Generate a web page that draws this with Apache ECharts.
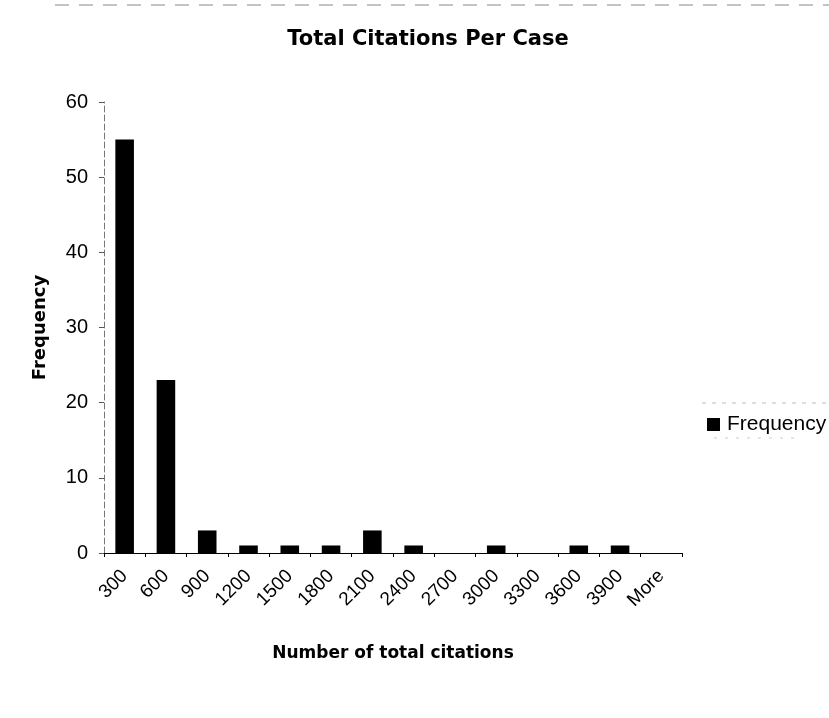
<!DOCTYPE html>
<html>
<head>
<meta charset="utf-8">
<script src="https://cdn.jsdelivr.net/npm/echarts@6/dist/echarts.min.js"></script>
<style>
  html, body { margin: 0; padding: 0; background: #fff; }
  #chart { width: 829px; height: 718px; }
</style>
</head>
<body>
<div id="chart"></div>
<script>
// Histogram bins (upper bound of each bin) and case counts
const binLabels = ['300', '600', '900', '1200', '1500', '1800', '2100', '2400', '2700', '3000', '3300', '3600', '3900', 'More'];
const frequency = [55, 23, 3, 1, 1, 1, 3, 1, 0, 1, 0, 1, 1, 0];
const yTicks = { min: 0, max: 60, step: 10 };

const bold = '"DejaVu Sans", Verdana, sans-serif';
const regular = '"Liberation Sans", Arial, sans-serif';
const chart = echarts.init(document.getElementById('chart'));

chart.setOption({
  backgroundColor: '#ffffff',
  animation: false,
  title: {
    text: 'Total Citations Per Case',
    left: 428,
    top: 29,
    padding: 0,
    textAlign: 'center',
    textStyle: { fontFamily: bold, fontSize: 21, fontWeight: 'bold', color: '#000' }
  },
  legend: {
    data: ['Frequency'],
    left: 707,
    top: 414,
    itemWidth: 13,
    itemHeight: 13,
    icon: 'rect',
    textStyle: { fontFamily: regular, fontSize: 21, color: '#000', padding: [0, 0, 0, 2] },
    padding: 0
  },
  grid: { left: 104, top: 102, width: 578, height: 451, containLabel: false },
  xAxis: {
    type: 'category',
    data: binLabels,
    name: 'Number of total citations',
    nameLocation: 'middle',
    nameGap: 92,
    nameTextStyle: { fontFamily: bold, fontSize: 17, fontWeight: 'bold', color: '#000' },
    axisLine: { lineStyle: { color: '#000', width: 1 } },
    axisTick: { show: true, alignWithLabel: false, length: 4, lineStyle: { color: '#000' } },
    axisLabel: {
      rotate: 45,
      interval: 0,
      margin: 20,
      fontFamily: regular,
      fontSize: 19,
      color: '#000'
    }
  },
  yAxis: {
    type: 'value',
    min: yTicks.min,
    max: yTicks.max,
    interval: yTicks.step,
    name: 'Frequency',
    nameLocation: 'middle',
    nameGap: 55,
    nameRotate: 90,
    nameTextStyle: { fontFamily: bold, fontSize: 18, fontWeight: 'bold', color: '#000' },
    axisLine: { show: true, lineStyle: { color: '#777', width: 1, type: [6, 3] } },
    axisTick: { show: true, inside: false, length: 5, lineStyle: { color: '#555' } },
    axisLabel: { fontFamily: regular, fontSize: 20, color: '#000', margin: 16 },
    splitLine: { show: false }
  },
  series: [{
    name: 'Frequency',
    type: 'bar',
    data: frequency,
    barWidth: '45%',
    itemStyle: { color: '#000' }
  }],
  graphic: [
    {
      // faint dashed frame edge along the top
      type: 'line',
      shape: { x1: 55, y1: 5, x2: 829, y2: 5 },
      style: { stroke: '#888', lineWidth: 1, lineDash: [14, 10] },
      silent: true
    },
    {
      // faint dashed edges above and below the legend
      type: 'line',
      shape: { x1: 702, y1: 403, x2: 829, y2: 403 },
      style: { stroke: '#bbb', lineWidth: 1, lineDash: [4, 6] },
      silent: true
    },
    {
      type: 'line',
      shape: { x1: 714, y1: 438, x2: 800, y2: 438 },
      style: { stroke: '#ccc', lineWidth: 1, lineDash: [3, 8] },
      silent: true
    }
  ]
});
</script>
</body>
</html>
